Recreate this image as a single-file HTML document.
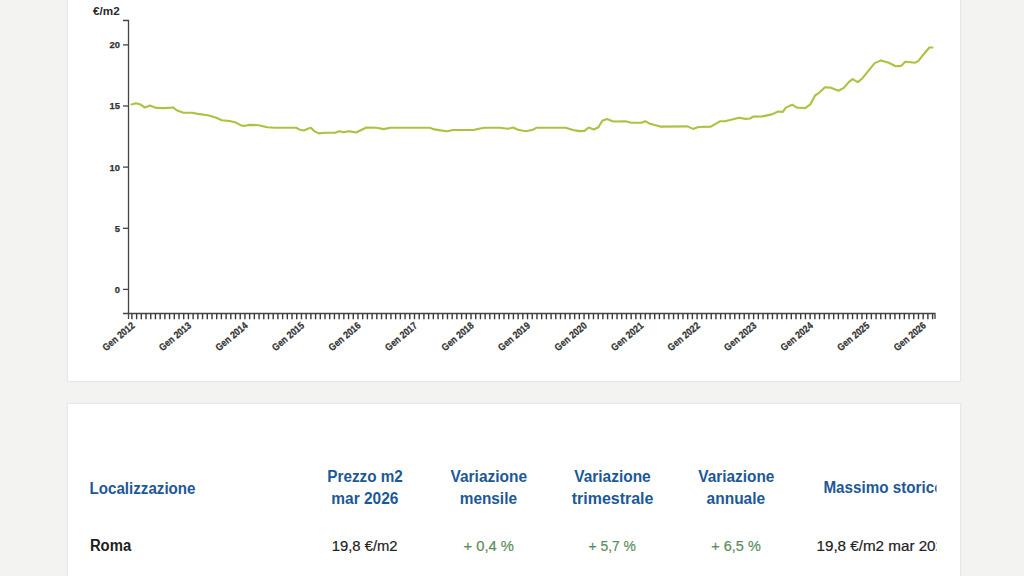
<!DOCTYPE html>
<html><head><meta charset="utf-8"><style>
html,body{margin:0;padding:0;}
body{width:1024px;height:576px;overflow:hidden;background:#f3f3f1;position:relative;font-family:"Liberation Sans",Arial,sans-serif;}
.card{position:absolute;left:67px;width:892px;background:#fff;border:1px solid #e8e8e6;box-shadow:0 0 2px rgba(0,0,0,0.04);}
text{font-family:"Liberation Sans",Arial,sans-serif;}
.tl{font-size:9px;font-weight:bold;fill:#333;stroke:#333;stroke-width:0.25px;}
.xl{font-size:10px;}
.yl{font-size:9.4px;}
.tl0{fill:#2a2a2a;}
.h{fill:#1d5896;}
.k{fill:#222;stroke:#222;stroke-width:0.2px;}
.k0{fill:#1e1e1e;}
.g{fill:#5b8c5a;stroke:#5b8c5a;stroke-width:0.2px;}
</style></head><body>
<div class="card" style="top:-20px;height:400px"></div>
<div class="card" style="top:403px;height:200px"></div>
<svg width="1024" height="400" viewBox="0 0 1024 400" style="position:absolute;left:0;top:0">
<path d="M123,20.5 H128.5 V313.5 H123" fill="none" stroke="#444" stroke-width="1.3"/>
<path d="M128.5,319 V313.5 H935 V319" fill="none" stroke="#444" stroke-width="1.3"/>
<line x1="123" x2="128.5" y1="289.4" y2="289.4" stroke="#444" stroke-width="1.3"/>
<text x="120" y="292.8" text-anchor="end" class="tl yl">0</text>
<line x1="123" x2="128.5" y1="228.3" y2="228.3" stroke="#444" stroke-width="1.3"/>
<text x="120" y="231.7" text-anchor="end" class="tl yl">5</text>
<line x1="123" x2="128.5" y1="167.1" y2="167.1" stroke="#444" stroke-width="1.3"/>
<text x="120" y="170.5" text-anchor="end" class="tl yl">10</text>
<line x1="123" x2="128.5" y1="106.0" y2="106.0" stroke="#444" stroke-width="1.3"/>
<text x="120" y="109.4" text-anchor="end" class="tl yl">15</text>
<line x1="123" x2="128.5" y1="44.9" y2="44.9" stroke="#444" stroke-width="1.3"/>
<text x="120" y="48.3" text-anchor="end" class="tl yl">20</text>
<text x="92.99" y="14.60" style="font-size:11px;font-weight:bold" class="tl0" textLength="26.65" lengthAdjust="spacingAndGlyphs">€/m2</text>
<path d="M131.90,313.5V319.3 M136.61,313.5V319.3 M141.32,313.5V319.3 M146.03,313.5V319.3 M150.74,313.5V319.3 M155.45,313.5V319.3 M160.16,313.5V319.3 M164.87,313.5V319.3 M169.58,313.5V319.3 M174.29,313.5V319.3 M179.00,313.5V319.3 M183.71,313.5V319.3 M188.42,313.5V319.3 M193.13,313.5V319.3 M197.84,313.5V319.3 M202.55,313.5V319.3 M207.26,313.5V319.3 M211.97,313.5V319.3 M216.68,313.5V319.3 M221.39,313.5V319.3 M226.10,313.5V319.3 M230.81,313.5V319.3 M235.52,313.5V319.3 M240.23,313.5V319.3 M244.94,313.5V319.3 M249.65,313.5V319.3 M254.36,313.5V319.3 M259.07,313.5V319.3 M263.78,313.5V319.3 M268.49,313.5V319.3 M273.20,313.5V319.3 M277.91,313.5V319.3 M282.62,313.5V319.3 M287.33,313.5V319.3 M292.04,313.5V319.3 M296.75,313.5V319.3 M301.46,313.5V319.3 M306.17,313.5V319.3 M310.88,313.5V319.3 M315.59,313.5V319.3 M320.30,313.5V319.3 M325.01,313.5V319.3 M329.72,313.5V319.3 M334.43,313.5V319.3 M339.14,313.5V319.3 M343.85,313.5V319.3 M348.56,313.5V319.3 M353.27,313.5V319.3 M357.98,313.5V319.3 M362.69,313.5V319.3 M367.40,313.5V319.3 M372.11,313.5V319.3 M376.82,313.5V319.3 M381.53,313.5V319.3 M386.24,313.5V319.3 M390.95,313.5V319.3 M395.66,313.5V319.3 M400.37,313.5V319.3 M405.08,313.5V319.3 M409.79,313.5V319.3 M414.50,313.5V319.3 M419.21,313.5V319.3 M423.92,313.5V319.3 M428.63,313.5V319.3 M433.34,313.5V319.3 M438.05,313.5V319.3 M442.76,313.5V319.3 M447.47,313.5V319.3 M452.18,313.5V319.3 M456.89,313.5V319.3 M461.60,313.5V319.3 M466.31,313.5V319.3 M471.02,313.5V319.3 M475.73,313.5V319.3 M480.44,313.5V319.3 M485.15,313.5V319.3 M489.86,313.5V319.3 M494.57,313.5V319.3 M499.28,313.5V319.3 M503.99,313.5V319.3 M508.70,313.5V319.3 M513.41,313.5V319.3 M518.12,313.5V319.3 M522.83,313.5V319.3 M527.54,313.5V319.3 M532.25,313.5V319.3 M536.96,313.5V319.3 M541.67,313.5V319.3 M546.38,313.5V319.3 M551.09,313.5V319.3 M555.80,313.5V319.3 M560.51,313.5V319.3 M565.22,313.5V319.3 M569.93,313.5V319.3 M574.64,313.5V319.3 M579.35,313.5V319.3 M584.06,313.5V319.3 M588.77,313.5V319.3 M593.48,313.5V319.3 M598.19,313.5V319.3 M602.90,313.5V319.3 M607.61,313.5V319.3 M612.32,313.5V319.3 M617.03,313.5V319.3 M621.74,313.5V319.3 M626.45,313.5V319.3 M631.16,313.5V319.3 M635.87,313.5V319.3 M640.58,313.5V319.3 M645.29,313.5V319.3 M650.00,313.5V319.3 M654.71,313.5V319.3 M659.42,313.5V319.3 M664.13,313.5V319.3 M668.84,313.5V319.3 M673.55,313.5V319.3 M678.26,313.5V319.3 M682.97,313.5V319.3 M687.68,313.5V319.3 M692.39,313.5V319.3 M697.10,313.5V319.3 M701.81,313.5V319.3 M706.52,313.5V319.3 M711.23,313.5V319.3 M715.94,313.5V319.3 M720.65,313.5V319.3 M725.36,313.5V319.3 M730.07,313.5V319.3 M734.78,313.5V319.3 M739.49,313.5V319.3 M744.20,313.5V319.3 M748.91,313.5V319.3 M753.62,313.5V319.3 M758.33,313.5V319.3 M763.04,313.5V319.3 M767.75,313.5V319.3 M772.46,313.5V319.3 M777.17,313.5V319.3 M781.88,313.5V319.3 M786.59,313.5V319.3 M791.30,313.5V319.3 M796.01,313.5V319.3 M800.72,313.5V319.3 M805.43,313.5V319.3 M810.14,313.5V319.3 M814.85,313.5V319.3 M819.56,313.5V319.3 M824.27,313.5V319.3 M828.98,313.5V319.3 M833.69,313.5V319.3 M838.40,313.5V319.3 M843.11,313.5V319.3 M847.82,313.5V319.3 M852.53,313.5V319.3 M857.24,313.5V319.3 M861.95,313.5V319.3 M866.66,313.5V319.3 M871.37,313.5V319.3 M876.08,313.5V319.3 M880.79,313.5V319.3 M885.50,313.5V319.3 M890.21,313.5V319.3 M894.92,313.5V319.3 M899.63,313.5V319.3 M904.34,313.5V319.3 M909.05,313.5V319.3 M913.76,313.5V319.3 M918.47,313.5V319.3 M923.18,313.5V319.3 M927.89,313.5V319.3 M932.60,313.5V319.3" stroke="#3a3a3a" stroke-width="1.4"/>
<text transform="translate(135.4,326.7) rotate(-40)" text-anchor="end" class="tl xl" textLength="38.5" lengthAdjust="spacingAndGlyphs">Gen 2012</text>
<text transform="translate(191.9,326.7) rotate(-40)" text-anchor="end" class="tl xl" textLength="38.5" lengthAdjust="spacingAndGlyphs">Gen 2013</text>
<text transform="translate(248.4,326.7) rotate(-40)" text-anchor="end" class="tl xl" textLength="38.5" lengthAdjust="spacingAndGlyphs">Gen 2014</text>
<text transform="translate(305.0,326.7) rotate(-40)" text-anchor="end" class="tl xl" textLength="38.5" lengthAdjust="spacingAndGlyphs">Gen 2015</text>
<text transform="translate(361.5,326.7) rotate(-40)" text-anchor="end" class="tl xl" textLength="38.5" lengthAdjust="spacingAndGlyphs">Gen 2016</text>
<text transform="translate(418.0,326.7) rotate(-40)" text-anchor="end" class="tl xl" textLength="38.5" lengthAdjust="spacingAndGlyphs">Gen 2017</text>
<text transform="translate(474.5,326.7) rotate(-40)" text-anchor="end" class="tl xl" textLength="38.5" lengthAdjust="spacingAndGlyphs">Gen 2018</text>
<text transform="translate(531.0,326.7) rotate(-40)" text-anchor="end" class="tl xl" textLength="38.5" lengthAdjust="spacingAndGlyphs">Gen 2019</text>
<text transform="translate(587.6,326.7) rotate(-40)" text-anchor="end" class="tl xl" textLength="38.5" lengthAdjust="spacingAndGlyphs">Gen 2020</text>
<text transform="translate(644.1,326.7) rotate(-40)" text-anchor="end" class="tl xl" textLength="38.5" lengthAdjust="spacingAndGlyphs">Gen 2021</text>
<text transform="translate(700.6,326.7) rotate(-40)" text-anchor="end" class="tl xl" textLength="38.5" lengthAdjust="spacingAndGlyphs">Gen 2022</text>
<text transform="translate(757.1,326.7) rotate(-40)" text-anchor="end" class="tl xl" textLength="38.5" lengthAdjust="spacingAndGlyphs">Gen 2023</text>
<text transform="translate(813.6,326.7) rotate(-40)" text-anchor="end" class="tl xl" textLength="38.5" lengthAdjust="spacingAndGlyphs">Gen 2024</text>
<text transform="translate(870.2,326.7) rotate(-40)" text-anchor="end" class="tl xl" textLength="38.5" lengthAdjust="spacingAndGlyphs">Gen 2025</text>
<text transform="translate(926.7,326.7) rotate(-40)" text-anchor="end" class="tl xl" textLength="38.5" lengthAdjust="spacingAndGlyphs">Gen 2026</text>
<path d="M131.6,104.4 L135.9,103.2 L139.8,104.2 L144.9,107.5 L150.0,105.5 L156.2,107.9 L164.0,108.1 L173.4,107.5 L176.6,110.2 L182.8,112.6 L192.2,112.8 L197.7,113.9 L207.8,115.2 L215.6,117.5 L221.9,120.2 L229.7,121.0 L235.9,122.6 L240.6,125.2 L244.5,125.9 L248.4,124.9 L258.6,125.2 L267.2,127.3 L275.0,127.8 L296.1,127.8 L299.2,129.4 L303.9,130.5 L307.8,128.8 L310.9,127.8 L314.1,131.1 L318.8,133.4 L325.0,132.7 L335.2,132.8 L339.1,131.2 L343.8,132.3 L348.4,131.2 L350.0,131.4 L356.2,132.5 L366.4,127.5 L376.6,127.7 L383.6,129.1 L390.6,127.7 L429.7,127.7 L434.4,129.4 L440.6,130.4 L447.3,131.2 L453.1,130.0 L473.4,130.0 L478.9,128.8 L484.4,127.7 L500.0,127.8 L507.8,128.8 L512.9,127.5 L518.0,129.8 L525.8,131.2 L532.8,129.8 L536.7,127.7 L565.6,127.7 L575.0,130.4 L579.7,131.1 L584.4,130.9 L588.7,127.5 L593.8,129.5 L598.4,127.3 L602.3,120.7 L607.0,119.1 L613.3,121.5 L625.8,121.2 L631.2,122.7 L641.4,122.7 L645.3,121.2 L650.0,123.8 L660.2,126.6 L687.5,126.4 L693.0,128.9 L698.4,127.0 L710.9,126.6 L720.3,121.2 L725.0,121.2 L739.1,117.7 L745.3,118.9 L750.0,118.5 L753.1,116.6 L762.5,116.4 L771.9,114.4 L778.1,111.5 L782.8,111.9 L785.9,107.6 L792.2,104.7 L796.9,107.6 L800.0,107.7 L805.2,108.1 L810.4,104.3 L815.1,95.4 L818.8,93.1 L825.0,87.3 L830.2,87.6 L838.5,90.7 L843.8,87.9 L849.0,81.9 L852.6,79.1 L857.8,82.1 L862.5,78.2 L870.8,67.8 L874.7,63.1 L880.9,60.4 L888.8,62.7 L895.8,66.2 L901.2,65.9 L905.2,61.7 L915.3,62.7 L918.4,60.8 L924.7,53.0 L929.4,47.5 L932.5,47.5" fill="none" stroke="#aac340" stroke-width="2.1" stroke-linejoin="round" stroke-linecap="round"/>
</svg>
<svg width="1024" height="576" viewBox="0 0 1024 576" style="position:absolute;left:0;top:0"><defs><clipPath id="c"><rect x="67" y="403" width="869.5" height="173"/></clipPath></defs><g clip-path="url(#c)"><text x="89.56" y="493.60" style="font-size:16px;font-weight:bold" class="h" textLength="105.94" lengthAdjust="spacingAndGlyphs">Localizzazione</text>
<text x="327.25" y="481.60" style="font-size:16px;font-weight:bold" class="h" textLength="75.56" lengthAdjust="spacingAndGlyphs">Prezzo m2</text>
<text x="331.33" y="503.80" style="font-size:16px;font-weight:bold" class="h" textLength="67.04" lengthAdjust="spacingAndGlyphs">mar 2026</text>
<text x="450.50" y="481.60" style="font-size:16px;font-weight:bold" class="h" textLength="76.53" lengthAdjust="spacingAndGlyphs">Variazione</text>
<text x="459.74" y="503.80" style="font-size:16px;font-weight:bold" class="h" textLength="57.23" lengthAdjust="spacingAndGlyphs">mensile</text>
<text x="574.20" y="481.60" style="font-size:16px;font-weight:bold" class="h" textLength="76.53" lengthAdjust="spacingAndGlyphs">Variazione</text>
<text x="571.80" y="503.80" style="font-size:16px;font-weight:bold" class="h" textLength="81.62" lengthAdjust="spacingAndGlyphs">trimestrale</text>
<text x="698.30" y="481.60" style="font-size:16px;font-weight:bold" class="h" textLength="76.03" lengthAdjust="spacingAndGlyphs">Variazione</text>
<text x="706.62" y="503.80" style="font-size:16px;font-weight:bold" class="h" textLength="58.53" lengthAdjust="spacingAndGlyphs">annuale</text>
<text x="823.45" y="493.4" font-size="16" font-weight="bold" class="h" textLength="120.02" lengthAdjust="spacingAndGlyphs">Massimo storico</text>
<text x="89.88" y="550.50" style="font-size:16px;font-weight:bold" class="k0" textLength="41.29" lengthAdjust="spacingAndGlyphs">Roma</text>
<text x="331.82" y="550.50" style="font-size:15px;font-weight:normal" class="k" textLength="65.78" lengthAdjust="spacingAndGlyphs">19,8 €/m2</text>
<text x="463.51" y="550.50" style="font-size:15px;font-weight:normal" class="g" textLength="50.46" lengthAdjust="spacingAndGlyphs">+ 0,4 %</text>
<text x="588.55" y="550.50" style="font-size:15px;font-weight:normal" class="g" textLength="47.39" lengthAdjust="spacingAndGlyphs">+ 5,7 %</text>
<text x="711.33" y="550.50" style="font-size:15px;font-weight:normal" class="g" textLength="49.44" lengthAdjust="spacingAndGlyphs">+ 6,5 %</text>
<text x="816.49" y="550.5" font-size="15" class="k" textLength="135.98" lengthAdjust="spacingAndGlyphs">19,8 €/m2 mar 2026</text></g></svg>
</body></html>
